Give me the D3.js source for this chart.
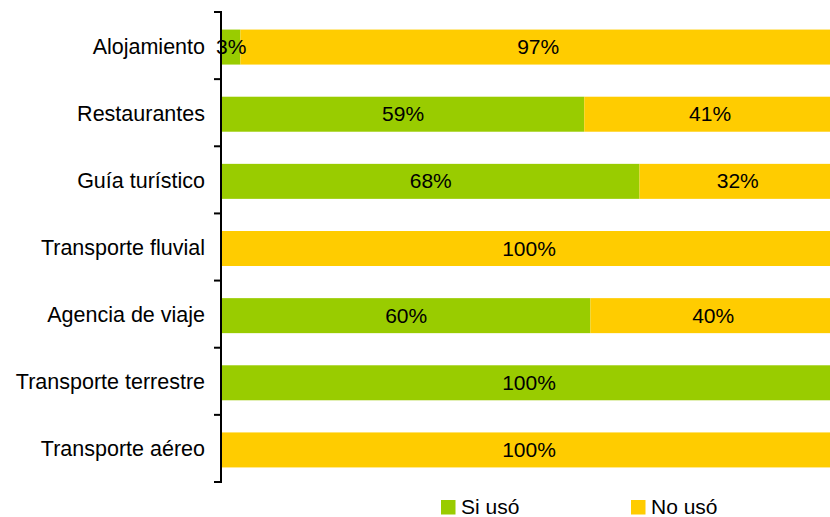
<!DOCTYPE html>
<html><head><meta charset="utf-8">
<script src="https://cdn.jsdelivr.net/npm/d3@7"></script>
<style>body{margin:0;background:#fff;overflow:hidden}svg{display:block;font-family:"Liberation Sans",Arial,sans-serif}</style>
</head><body><svg id="c" width="830" height="517"></svg>
<script>
const categories = ["Alojamiento","Restaurantes","Guía turístico","Transporte fluvial","Agencia de viaje","Transporte terrestre","Transporte aéreo"];
const siUso = [3, 59, 68, 0, 60, 100, 0];
const noUso = [97, 41, 32, 100, 40, 0, 100];
const seriesNames = ["Si usó","No usó"];
const colors = ["#99CC00","#FFCC00"];

const svg = d3.select("#c");
const x = d3.scaleLinear().domain([0,100]).range([222,836]);
const y = d3.scaleBand().domain(categories).range([12,482]);
const barH = 35;
const fs = 21;

const rows = categories.map((c,i)=>({cat:c, vals:[siUso[i], noUso[i]]}));
const stack = d3.stack().keys([0,1]).value((d,k)=>d.vals[k]);
const layers = stack(rows);

const barG = svg.append("g");
const lblG = svg.append("g");
layers.forEach((layer,k)=>{
  layer.forEach((seg,i)=>{
    const w = x(seg[1]) - x(seg[0]);
    if (w <= 0) return;
    const yc = y(categories[i]) + y.bandwidth()/2 + 1.5;
    barG.append("rect").attr("x", x(seg[0])).attr("y", yc - barH/2)
      .attr("width", w).attr("height", barH).attr("fill", colors[k]);
    lblG.append("text").attr("x", (x(seg[0])+x(seg[1]))/2).attr("y", yc + 7)
      .attr("text-anchor","middle").attr("font-size",fs).attr("fill","#000")
      .text(Math.round(seg[1]-seg[0]) + "%");
  });
});

// axis
const ax = svg.append("g").attr("transform","translate(221,0)");
ax.append("line").attr("x1",0).attr("x2",0).attr("y1",11).attr("y2",483).attr("stroke","#000").attr("stroke-width",2);
const ticks = categories.map(c=>y(c)).concat([482]);
ax.selectAll("line.t").data(ticks).enter().append("line").attr("class","t")
  .attr("x1",-7).attr("x2",0).attr("y1",d=>d).attr("y2",d=>d).attr("stroke","#000").attr("stroke-width",2);
ax.selectAll("text").data(categories).enter().append("text")
  .attr("x",-16).attr("y",c=>y(c)+y.bandwidth()/2+1.5+6.5)
  .attr("text-anchor","end").attr("font-size",21.5).attr("fill","#000").text(c=>c);
lblG.raise();

// legend
const legX = [441, 631];
seriesNames.forEach((n,k)=>{
  svg.append("rect").attr("x",legX[k]).attr("y",500).attr("width",14.5).attr("height",14.5).attr("fill",colors[k]);
  svg.append("text").attr("x",legX[k]+20).attr("y",514).attr("font-size",fs).attr("fill","#000").text(n);
});
</script></body></html>
